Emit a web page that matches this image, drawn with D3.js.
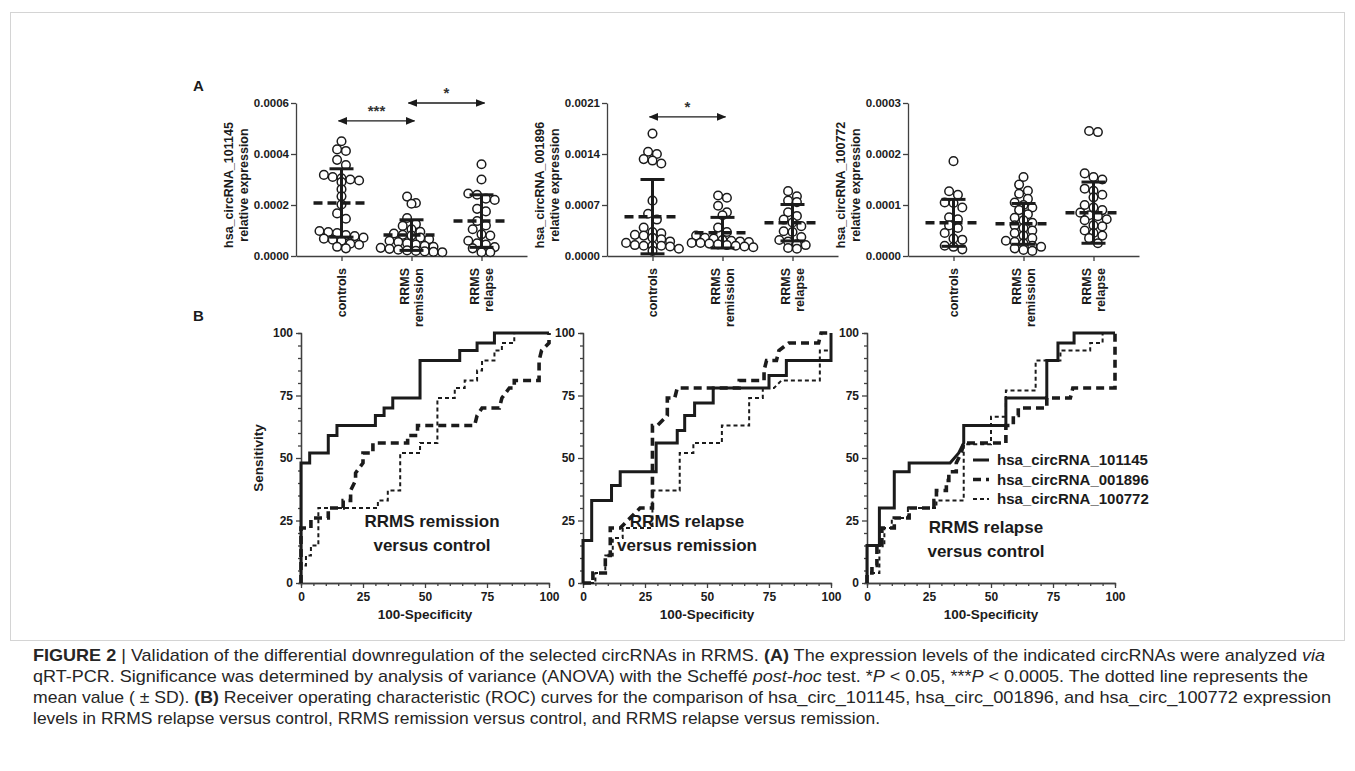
<!DOCTYPE html>
<html>
<head>
<meta charset="utf-8">
<script src="https://cdn.jsdelivr.net/npm/d3@7"></script>
<style>
body { margin: 0; background: #fff; }
svg text { font-family: "Liberation Sans", Arial, sans-serif; }
</style>
</head>
<body>
<svg id="chart" width="1355" height="771"></svg>
<script>
// ---- data ----
var groupsA = ["controls", "RRMS remission", "RRMS relapse"];
var groupLines = [["controls"], ["RRMS", "remission"], ["RRMS", "relapse"]];
var genes = ["hsa_circRNA_101145", "hsa_circRNA_001896", "hsa_circRNA_100772"];
var yMaxA = [0.0006, 0.0021, 0.0003];
var yTicksA = [[0, 0.0002, 0.0004, 0.0006], [0, 0.0007, 0.0014, 0.0021], [0, 0.0001, 0.0002, 0.0003]];

// hsa_circRNA_101145
var g101145_controls = [0.00045, 0.000418, 0.000412, 0.000377, 0.000357, 0.000318, 0.000310, 0.000305, 0.000300, 0.000296, 0.000290, 0.000262, 0.000234, 0.000202, 0.000167, 0.000146, 0.000098, 0.000094, 0.000090, 0.000082, 0.000078, 0.000072, 0.000068, 0.000064, 0.000060, 0.000048, 0.000044, 0.000036, 0.000030];
var g101145_remission = [0.000233, 0.000208, 0.000205, 0.000149, 0.000125, 0.000118, 0.000105, 0.000095, 0.000088, 0.000083, 0.00008, 0.000072, 0.000066, 0.00006, 0.000055, 0.00005, 0.000045, 0.00004, 0.000036, 0.000032, 0.000028, 0.000025, 0.000022, 0.00002, 0.000018, 0.000016, 0.000015];
var g101145_relapse = [0.00036, 0.0003, 0.000245, 0.00024, 0.000225, 0.00022, 0.000185, 0.000175, 0.000137, 0.00012, 0.000105, 0.000085, 0.00008, 0.00006, 0.00005, 0.000045, 0.000035, 0.00003, 0.000015, 0.000015];
var g101145_mean = [0.000208, 0.000082, 0.000137];
var g101145_sd = [0.000134, 0.00006, 0.000103];

// hsa_circRNA_001896
var g001896_controls = [0.00168, 0.00143, 0.00140, 0.00133, 0.00131, 0.00127, 0.00076, 0.00058, 0.00050, 0.00039, 0.00033, 0.00031, 0.00029, 0.00028, 0.00025, 0.00023, 0.00020, 0.00018, 0.00015, 0.00014, 0.00014, 0.00014, 0.00013, 0.00010, 0.00007];
var g001896_remission = [0.00083, 0.00080, 0.00069, 0.00060, 0.00056, 0.00039, 0.00033, 0.00028, 0.00025, 0.00024, 0.00022, 0.00021, 0.00020, 0.00019, 0.00018, 0.00018, 0.00017, 0.00016, 0.00015, 0.00014, 0.00013, 0.00012];
var g001896_relapse = [0.00089, 0.00082, 0.00076, 0.00074, 0.00060, 0.00055, 0.00050, 0.00046, 0.00041, 0.00034, 0.00033, 0.00026, 0.00022, 0.00020, 0.00016, 0.00015, 0.00011, 0.00010];
var g001896_mean = [0.00054, 0.00032, 0.000457];
var g001896_sd = [0.00051, 0.00021, 0.00025];

// hsa_circRNA_100772
var g100772_controls = [0.000186, 0.000127, 0.00012, 0.000105, 0.000104, 0.000095, 0.000076, 0.000072, 0.00006, 0.000055, 0.000045, 0.000034, 0.000032, 0.00002, 0.000018, 0.000013];
var g100772_remission = [0.000155, 0.00014, 0.000128, 0.000122, 0.000112, 0.000105, 0.0001, 0.000095, 0.00009, 0.000082, 0.000075, 0.00007, 0.000065, 0.00006, 0.000055, 0.00005, 0.000045, 0.00004, 0.000035, 0.00003, 0.000028, 0.000025, 0.00002, 0.000018, 0.000015, 0.000012, 0.00001];
var g100772_relapse = [0.000245, 0.000243, 0.000162, 0.000155, 0.00015, 0.000132, 0.000128, 0.00012, 0.000115, 0.0001, 0.000095, 0.00009, 0.000085, 0.00008, 0.000078, 0.000072, 0.00007, 0.00006, 0.000058, 0.00005, 0.000045, 0.00004, 0.000035, 0.000025];
var g100772_mean = [0.000065, 0.000063, 0.000085];
var g100772_sd = [0.000046, 0.00004, 0.00006];

// significance arrows: panel, from group, to group, height, label
var sigPanel = [0, 0, 1];
var sigFrom = [0, 1, 0];
var sigTo = [1, 2, 1];
var sigY = [0.00053, 0.0006, 0.00191];
var sigLabel = ["***", "*", "*"];

// ROC curves, [100-specificity, sensitivity]
var rocTitles = [["RRMS remission", "versus control"], ["RRMS relapse", "versus remission"], ["RRMS relapse", "versus control"]];
var rocTicks = [0, 25, 50, 75, 100];

var remCtrl_101145 = [[0,0],[0,48],[3.5,48],[3.5,52],[11,52],[11,59],[14.5,59],[14.5,63],[30,63],[30,67],[33.5,67],[33.5,70],[37,70],[37,74],[48,74],[48,89],[64,89],[64,93],[71,93],[71,96],[78,96],[78,100],[100,100]];
var remCtrl_001896 = [[0,0],[0,22],[4,22],[4,26],[11,26],[11,30],[17,30],[17,33],[20,33],[20,37],[22,41],[22,44],[25,48],[25,52],[29,52],[29,56],[43,56],[43,59],[47,59],[47,63],[70,63],[71,67],[73,70],[80,70],[81,74],[84,78],[86,78],[86,81],[96,81],[96,89],[97,93],[100,96],[100,100]];
var remCtrl_100772 = [[0,0],[0,7],[2,7],[2,11],[4,11],[4,15],[7,15],[7,30],[31,30],[31,33],[35,33],[35,37],[40,37],[40,52],[48,52],[48,56],[55,56],[55,74],[62,74],[62,78],[66,78],[66,81],[71,81],[71,85],[73,85],[73,89],[78,89],[78,93],[81,93],[81,96],[86,96],[86,100],[100,100]];

var relRem_101145 = [[0,0],[0,17],[3.5,17],[3.5,33],[11.5,33],[11.5,39],[15,39],[15,44.5],[29.5,44.5],[29.5,56],[38,56],[38,61],[41,61],[41,67],[45,67],[45,72],[52.5,72],[52.5,78],[75,78],[75,83],[82,83],[82,89],[100,89],[100,100]];
var relRem_001896 = [[0,0],[4,0],[4,4],[9,4],[9,11],[11,11],[11,22],[15,22],[23,30],[28,30],[28,63],[30,63],[34,67],[34,74],[37,74],[38,78],[63,78],[63,81],[73,81],[73,85],[74,89],[78,89],[79,93],[83,96],[95,96],[96,100],[100,100]];
var relRem_100772 = [[0,0],[5,0],[5,4],[9,4],[9,11],[12,11],[12,18],[16,18],[16,22],[28,22],[28,37],[39,37],[39,52],[44.5,52],[44.5,56],[56,56],[56,63],[67,63],[67,74],[72.5,74],[72.5,78],[77,78],[80,81],[95.5,81],[95.5,93],[100,93],[100,100]];

var relCtrl_101145 = [[0,0],[0,15],[5,15],[5,30],[11,30],[11,44.5],[17,44.5],[17,48],[33.5,48],[37,52],[39,56],[39,63],[56,63],[56,74],[72.5,74],[72.5,89],[77,89],[77,96],[83.5,96],[83.5,100],[100,100]];
var relCtrl_001896 = [[0,0],[0,4],[2,4],[2,7],[4,7],[4,15],[6,15],[6,22],[11,22],[11,26],[17,26],[17,30],[27,30],[27,33],[28,33],[28,37],[32,37],[32,41],[33,41],[33,44.5],[36,44.5],[36,48],[38,52],[39,56],[56,56],[56,63],[59,63],[59,67],[61,67],[61,70],[72.5,70],[72.5,74],[82,74],[83,78],[100,78],[100,100]];
var relCtrl_100772 = [[0,0],[0,4],[5,4],[5,15],[7,15],[7,22],[10,22],[10,26],[16.5,26],[16.5,30],[28,30],[28,33],[39,33],[39,55.5],[50,55.5],[50,66.5],[56,66.5],[56,77],[68,77],[68,89],[78,89],[78,93],[90,93],[90,96],[95,96],[95,100],[100,100]];

var panelA = [
    {groups: [g101145_controls, g101145_remission, g101145_relapse], mean: g101145_mean, sd: g101145_sd},
    {groups: [g001896_controls, g001896_remission, g001896_relapse], mean: g001896_mean, sd: g001896_sd},
    {groups: [g100772_controls, g100772_remission, g100772_relapse], mean: g100772_mean, sd: g100772_sd}
];
var panelB = [
    [remCtrl_101145, remCtrl_001896, remCtrl_100772],
    [relRem_101145, relRem_001896, relRem_100772],
    [relCtrl_101145, relCtrl_001896, relCtrl_100772]
];

// ---- drawing ----
var svg = d3.select("#chart");
var ink = "#1b1b1b", axisInk = "#404040";

svg.append("rect").attr("x", 10.5).attr("y", 12.5).attr("width", 1334).attr("height", 628)
    .attr("fill", "none").attr("stroke", "#d4d4d4");

svg.append("text").attr("x", 193).attr("y", 91).text("A")
    .style("font-weight", "bold").style("font-size", "15px").attr("fill", ink);
svg.append("text").attr("x", 193).attr("y", 321).text("B")
    .style("font-weight", "bold").style("font-size", "15px").attr("fill", ink);

// arrowheads
var defs = svg.append("defs");
defs.append("marker").attr("id", "arr").attr("viewBox", "0 0 10 10").attr("refX", 9).attr("refY", 5)
    .attr("markerWidth", 7).attr("markerHeight", 7).attr("orient", "auto-start-reverse")
    .append("path").attr("d", "M0,1 L10,5 L0,9 Z").attr("fill", ink);

function styleAxis(sel, size) {
    sel.select(".domain").attr("stroke", axisInk).attr("stroke-width", 1.3);
    sel.selectAll(".tick line").attr("stroke", axisInk).attr("stroke-width", 1.3);
    sel.selectAll(".tick text").attr("fill", ink).style("font-weight", "bold")
        .style("font-size", size).style("font-family", "'Liberation Sans', Arial, sans-serif");
}

// GraphPad-like scatter: points close in height share a row, spread side by side
function swarm(vals, y, cx, rowGap, spacing) {
    var rows = [], cur = null;
    vals.slice().sort(function(a, b) { return b - a; }).forEach(function(v) {
        var py = y(v);
        if (cur && py - cur.y0 < rowGap) cur.pts.push(py);
        else { cur = {y0: py, pts: [py]}; rows.push(cur); }
    });
    var out = [];
    rows.forEach(function(r) {
        var n = r.pts.length;
        r.pts.forEach(function(py, k) {
            out.push({x: cx + (k - (n - 1) / 2) * spacing, y: py});
        });
    });
    return out;
}

var aLeft = [296, 607, 908], aTop = 103, aBottom = 256, aWidth = 231;

panelA.forEach(function(p, i) {
    var g = svg.append("g");
    var x = d3.scalePoint().domain(groupsA).range([aLeft[i], aLeft[i] + aWidth]).padding(0.65);
    var y = d3.scaleLinear().domain([0, yMaxA[i]]).range([aBottom, aTop]);

    var ya = g.append("g").attr("transform", "translate(" + aLeft[i] + ",0)")
        .call(d3.axisLeft(y).tickValues(yTicksA[i]).tickFormat(d3.format(".4f")).tickSize(5).tickSizeOuter(0));
    styleAxis(ya, "11.5px");
    ya.selectAll(".tick text").attr("x", -7);

    var xa = g.append("g").attr("transform", "translate(0," + aBottom + ")")
        .call(d3.axisBottom(x).tickSize(5).tickSizeOuter(0).tickFormat(""));
    styleAxis(xa, "12px");

    // group labels, rotated
    groupsA.forEach(function(c, j) {
        var lines = groupLines[j];
        lines.forEach(function(t, k) {
            var off = (k - (lines.length - 1) / 2) * 14.5;
            g.append("text")
                .attr("transform", "translate(" + (x(c) + off + 4.5) + "," + (aBottom + 12) + ") rotate(-90)")
                .attr("text-anchor", "end").text(t)
                .style("font-weight", "bold").style("font-size", "12.5px").attr("fill", ink);
        });
    });

    // y title
    [genes[i], "relative expression"].forEach(function(t, k) {
        g.append("text")
            .attr("transform", "translate(" + (aLeft[i] - 63 + k * 14.5) + "," + 185 + ") rotate(-90)")
            .attr("text-anchor", "middle").text(t)
            .style("font-weight", "bold").style("font-size", "12.5px").attr("fill", ink);
    });

    // points
    p.groups.forEach(function(vals, j) {
        var pts = swarm(vals, y, x(groupsA[j]), 7, 8.8);
        g.selectAll(null).data(pts).enter().append("circle")
            .attr("cx", function(d) { return d.x; }).attr("cy", function(d) { return d.y; })
            .attr("r", 4.3).attr("fill", "#fff").attr("stroke", ink).attr("stroke-width", 1.5);
    });

    // mean and SD
    groupsA.forEach(function(c, j) {
        var cx = x(c), m = p.mean[j], s = p.sd[j];
        g.append("line").attr("x1", cx).attr("x2", cx).attr("y1", y(m - s)).attr("y2", y(m + s))
            .attr("stroke", ink).attr("stroke-width", 3);
        [m - s, m + s].forEach(function(v) {
            g.append("line").attr("x1", cx - 12).attr("x2", cx + 12).attr("y1", y(v)).attr("y2", y(v))
                .attr("stroke", ink).attr("stroke-width", 3);
        });
        g.append("line").attr("x1", cx - 28).attr("x2", cx + 28).attr("y1", y(m)).attr("y2", y(m))
            .attr("stroke", ink).attr("stroke-width", 3.5).attr("stroke-dasharray", "9,5");
    });

    // significance arrows
    sigPanel.forEach(function(pi, k) {
        if (pi !== i) return;
        var x1 = x(groupsA[sigFrom[k]]) - 3, x2 = x(groupsA[sigTo[k]]) + 3, yy = y(sigY[k]);
        g.append("line").attr("x1", x1).attr("x2", x2).attr("y1", yy).attr("y2", yy)
            .attr("stroke", ink).attr("stroke-width", 1.4)
            .attr("marker-start", "url(#arr)").attr("marker-end", "url(#arr)");
        g.append("text").attr("x", (x1 + x2) / 2).attr("y", yy - 5).attr("text-anchor", "middle")
            .text(sigLabel[k]).style("font-size", "15px").style("font-weight", "bold").attr("fill", "#333");
    });
});

// ---- panel B ----
var bLeft = [301, 583, 867], bWidth = 248, bTop = 333, bBottom = 583;
var lineStyles = [
    {w: 3, dash: null},
    {w: 3.6, dash: "8,5"},
    {w: 2, dash: "4,3"}
];
var titlePos = [[432, 521], [687, 521], [986, 527]];

panelB.forEach(function(curves, i) {
    var g = svg.append("g");
    var x = d3.scaleLinear().domain([0, 100]).range([bLeft[i], bLeft[i] + bWidth]);
    var y = d3.scaleLinear().domain([0, 100]).range([bBottom, bTop]);
    var minor = d3.range(0, 101, 5).filter(function(v) { return v % 25 !== 0; });

    var ym = g.append("g").attr("transform", "translate(" + bLeft[i] + ",0)")
        .call(d3.axisLeft(y).tickValues(minor).tickSize(3).tickFormat(""));
    styleAxis(ym, "12px");
    var xm = g.append("g").attr("transform", "translate(0," + bBottom + ")")
        .call(d3.axisBottom(x).tickValues(minor).tickSize(3).tickFormat(""));
    styleAxis(xm, "12px");

    var ya = g.append("g").attr("transform", "translate(" + bLeft[i] + ",0)")
        .call(d3.axisLeft(y).tickValues(rocTicks).tickSize(5).tickSizeOuter(0));
    styleAxis(ya, "12px");
    var xa = g.append("g").attr("transform", "translate(0," + bBottom + ")")
        .call(d3.axisBottom(x).tickValues(rocTicks).tickSize(5).tickSizeOuter(0));
    styleAxis(xa, "12px");
    xa.selectAll(".tick text").attr("y", 9);

    g.append("text").attr("x", bLeft[i] + bWidth / 2).attr("y", 619).attr("text-anchor", "middle")
        .text("100-Specificity").style("font-weight", "bold").style("font-size", "13.5px").attr("fill", ink);

    var line = d3.line().x(function(d) { return x(d[0]); }).y(function(d) { return y(d[1]); });
    curves.forEach(function(c, k) {
        g.append("path").attr("d", line(c)).attr("fill", "none").attr("stroke", ink)
            .attr("stroke-width", lineStyles[k].w).attr("stroke-dasharray", lineStyles[k].dash);
    });

    rocTitles[i].forEach(function(t, k) {
        g.append("text").attr("x", titlePos[i][0]).attr("y", titlePos[i][1] + 6 + k * 24)
            .attr("text-anchor", "middle").text(t)
            .style("font-weight", "bold").style("font-size", "17px").attr("fill", ink);
    });
});

svg.append("text").attr("transform", "translate(263,458) rotate(-90)").attr("text-anchor", "middle")
    .text("Sensitivity").style("font-weight", "bold").style("font-size", "13.5px").attr("fill", ink);

// legend
genes.forEach(function(t, k) {
    var ly = 460 + k * 19.5;
    svg.append("line").attr("x1", 973).attr("x2", 989).attr("y1", ly).attr("y2", ly)
        .attr("stroke", ink).attr("stroke-width", lineStyles[k].w)
        .attr("stroke-dasharray", lineStyles[k].dash);
    svg.append("text").attr("x", 997).attr("y", ly + 5).text(t)
        .style("font-weight", "bold").style("font-size", "15px").attr("fill", ink);
});

// ---- caption ----
// each run: x start, width, line index, pieces
var capRuns = [
    {x: 33, w: 1292, line: 0, parts: [["b", "FIGURE 2"], ["n", " | Validation of the differential downregulation of the selected circRNAs in RRMS. "], ["b", "(A)"], ["n", " The expression levels of the indicated circRNAs were analyzed "], ["i", "via"]]},
    {x: 33, w: 1275, line: 1, parts: [["n", "qRT-PCR. Significance was determined by analysis of variance (ANOVA) with the Scheffé "], ["i", "post-hoc"], ["n", " test. *"], ["i", "P"], ["n", " < 0.05, ***"], ["i", "P"], ["n", " < 0.0005. The dotted line represents the"]]},
    {x: 33, w: 730, line: 2, parts: [["n", "mean value ( ± SD). "], ["b", "(B)"], ["n", " Receiver operating characteristic (ROC) curves for the comparison of"]]},
    {x: 768, w: 563, line: 2, parts: [["n", "hsa_circ_101145, hsa_circ_001896, and hsa_circ_100772 expression"]]},
    {x: 33, w: 847, line: 3, parts: [["n", "levels in RRMS relapse versus control, RRMS remission versus control, and RRMS relapse versus remission."]]}
];

capRuns.forEach(function(run) {
    var t = svg.append("text").attr("x", run.x).attr("y", 661 + run.line * 21)
        .attr("textLength", run.w).attr("lengthAdjust", "spacingAndGlyphs")
        .style("font-family", "'Liberation Sans Narrow', 'Liberation Sans', Arial, sans-serif")
        .style("font-size", "17px").attr("fill", "#262626");
    run.parts.forEach(function(pt) {
        var s = t.append("tspan").text(pt[1]);
        if (pt[0] === "b") s.style("font-weight", "bold");
        if (pt[0] === "i") s.style("font-style", "italic");
    });
});
</script>
</body>
</html>
